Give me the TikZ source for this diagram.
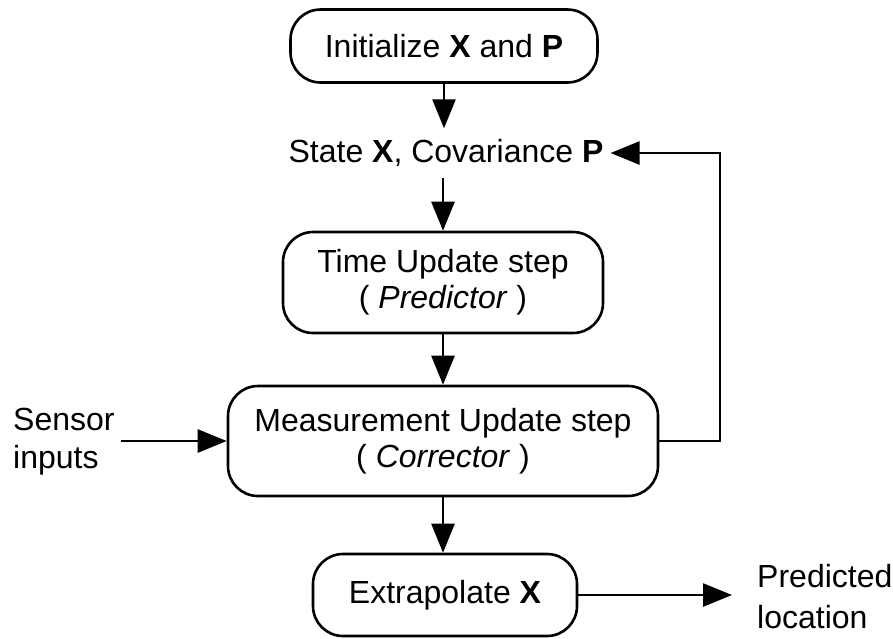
\documentclass[tikz,border=0pt]{standalone}
\usepackage{fontspec}
\setmainfont{Liberation Sans}
\usetikzlibrary{arrows.meta}
\begin{document}
\begin{tikzpicture}[x=1pt,y=-1pt,
  box/.style={draw, line width=2.6pt, rounded corners=30pt, inner sep=0pt, align=center},
  lbl/.style={inner sep=0pt, align=left},
  arr/.style={line width=2.6pt, -{Triangle[length=29pt,width=23pt]}},
  font=\fontsize{32}{36}\selectfont]
\useasboundingbox (0,0) rectangle (893,638);
\node[box, minimum width=307pt, minimum height=73pt] (init) at (444,46) {Initialize \textbf{X} and \textbf{P}};
\node[inner sep=0pt, minimum height=49pt] (state) at (446,153) {State \textbf{X}, Covariance \textbf{P}};
\node[box, minimum width=320pt, minimum height=101pt] (time) at (443,282.5) {Time Update step\\( \textit{Predictor} )};
\node[box, minimum width=430pt, minimum height=110pt] (meas) at (443,441) {Measurement Update step\\( \textit{Corrector} )};
\node[box, minimum width=264pt, minimum height=82pt] (extra) at (445,595) {Extrapolate \textbf{X}};
\node[lbl, anchor=west, font=\fontsize{32}{38}\selectfont] (sensor) at (13,442) {Sensor\\inputs};
\node[lbl, anchor=west, font=\fontsize{32}{41}\selectfont] (pred) at (757,597) {Predicted\\location};
\coordinate (loop) at (720,441);
\draw[arr] (init.south) -- (init.south |- state.north);
\draw[arr] (time.north |- state.south) -- (time.north);
\draw[arr] (time.south) -- (meas.north);
\draw[arr] (meas.south) -- (meas.south |- extra.north);
\draw[arr] ([xshift=6pt]sensor.east |- meas.west) -- (meas.west);
\draw[arr] (meas.east) -| (loop |- state.east) -- ([xshift=7pt]state.east);
\draw[arr] (extra.east) -- ([xshift=-25pt]pred.west |- extra.east);
\end{tikzpicture}
\end{document}
